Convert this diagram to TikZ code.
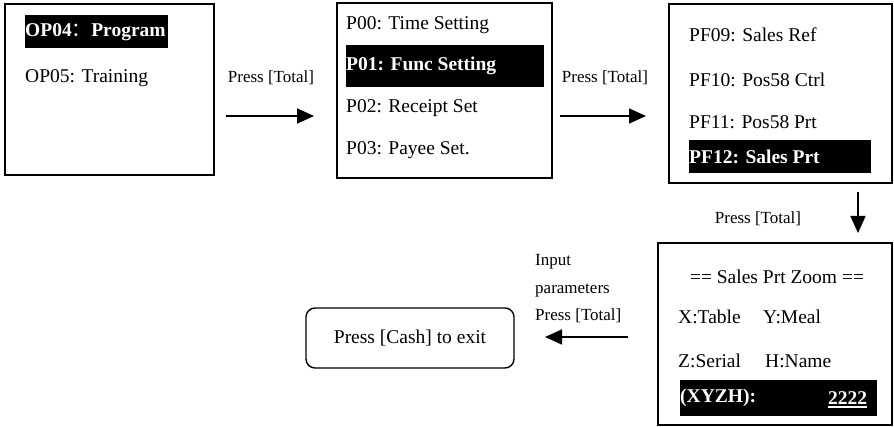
\documentclass[tikz,border=0pt]{standalone}
\usepackage{fontspec}
\setmainfont{Liberation Serif}
\newfontfamily\cjk{Noto Sans CJK SC}
\usetikzlibrary{arrows.meta}
\begin{document}
\begin{tikzpicture}[x=1pt,y=-1pt,
  screen/.style={draw=black,line width=1.4pt,inner sep=0pt},
  hl/.style={fill=black,draw=none,inner sep=0pt,anchor=north west},
  big/.style={font=\fontsize{19.5}{23}\selectfont,inner sep=0pt},
  bigw/.style={big,text=white,font=\fontsize{19.5}{23}\selectfont\bfseries,anchor=west},
  lbl/.style={font=\fontsize{17}{27.5}\selectfont,inner sep=0pt},
  arr/.style={line width=1.6pt,-{Triangle[length=17pt,width=15pt]}}]
\useasboundingbox (0,0) rectangle (894,427);
% boxes
\node[screen,minimum width=209pt,minimum height=171pt] (box1) at (109.5,89.5) {};
\node[screen,minimum width=215pt,minimum height=175pt] (box2) at (444.5,90.5) {};
\node[screen,minimum width=223pt,minimum height=179pt] (box3) at (780.5,93.5) {};
\node[screen,minimum width=234pt,minimum height=182pt] (box4) at (775,334) {};
\node[screen,rounded corners=9pt,minimum width=208pt,minimum height=60pt,big] (exit) at (410,338) {Press [Cash] to exit};
% box 1
\node[hl,minimum width=143pt,minimum height=33pt] (hl1) at (25,15) {};
\node[bigw] (t11) at (hl1.west) {OP04{\cjk\mdseries ：}Program};
\node[big,anchor=west] (t12) at (25,78) {OP05: Training};
% box 2
\node[big,anchor=west] (t21) at (346,25) {P00: Time Setting};
\node[hl,minimum width=198pt,minimum height=42pt] (hl2) at (346,45) {};
\node[bigw] (t22) at (hl2.west) {P01: Func Setting};
\node[big,anchor=west] (t23) at (346,108) {P02: Receipt Set};
\node[big,anchor=west] (t24) at (346,150) {P03: Payee Set.};
% box 3
\node[big,anchor=west] (t31) at (689,35) {PF09: Sales Ref};
\node[big,anchor=west] (t32) at (689,80) {PF10: Pos58 Ctrl};
\node[big,anchor=west] (t33) at (689,122) {PF11: Pos58 Prt};
\node[hl,minimum width=182pt,minimum height=33pt] (hl3) at (689,140) {};
\node[bigw] (t34) at (hl3.west) {PF12: Sales Prt};
% box 4
\node[big] (t41) at (777,277) {== Sales Prt Zoom ==};
\node[big,anchor=west] (t42) at (678,317) {X:Table};
\node[big,anchor=west] (t43) at (763,317) {Y:Meal};
\node[big,anchor=west] (t44) at (678,361) {Z:Serial};
\node[big,anchor=west] (t45) at (765,361) {H:Name};
\node[hl,minimum width=197pt,minimum height=36pt] (hl4) at (680,380) {};
\node[bigw] (t46) at (hl4.west) {(XYZH):};
\node[bigw,anchor=east] (t47) at ([xshift=-10pt]hl4.east) {2222};
\draw[white,line width=1.4pt] ([yshift=-2pt]t47.south west) -- ([yshift=-2pt]t47.south east);
% labels
\node[lbl] (l1) at (271,78) {Press [Total]};
\node[lbl] (l2) at (605,78) {Press [Total]};
\node[lbl] (l3) at (758,219) {Press [Total]};
\node[lbl,anchor=west,align=left] (l4) at (535,289) {Input\\parameters\\Press [Total]};
% arrows
\coordinate (a1s) at (226,116); \coordinate (a1e) at (314,116);
\coordinate (a2s) at (560,116); \coordinate (a2e) at (646,116);
\coordinate (a3s) at (858,192); \coordinate (a3e) at (858,233);
\coordinate (a4s) at (628,337); \coordinate (a4e) at (545,337);
\draw[arr] (a1s) -- (a1e);
\draw[arr] (a2s) -- (a2e);
\draw[arr] (a3s) -- (a3e);
\draw[arr] (a4s) -- (a4e);
\end{tikzpicture}
\end{document}
